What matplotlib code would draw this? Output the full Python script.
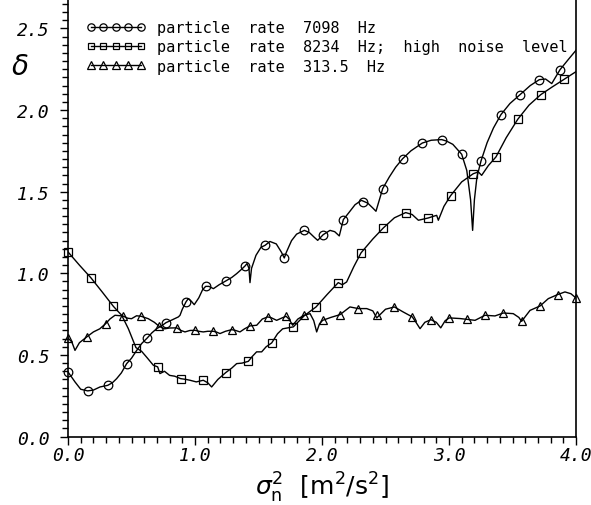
import matplotlib
matplotlib.use("Agg")
import matplotlib.pyplot as plt
from matplotlib.ticker import MultipleLocator, FormatStrFormatter

# ---- data ----
circ_line_x = [0.00, 0.055, 0.10, 0.155, 0.20, 0.252, 0.313, 0.35, 0.383, 0.42, 0.462, 0.50, 0.541, 0.58,
               0.624, 0.66, 0.698, 0.74, 0.772, 0.82, 0.869, 0.882, 0.90, 0.929, 0.947, 0.97, 0.994, 1.03,
               1.06, 1.084, 1.11, 1.145, 1.19, 1.242, 1.29, 1.328, 1.36, 1.394, 1.41, 1.425, 1.433, 1.445,
               1.48, 1.52, 1.551, 1.59, 1.64, 1.68, 1.703, 1.72, 1.76, 1.80, 1.861, 1.90, 1.94, 1.966,
               2.010, 2.063, 2.10, 2.136, 2.168, 2.21, 2.26, 2.31, 2.36, 2.40, 2.425, 2.478, 2.53, 2.58,
               2.635, 2.70, 2.79, 2.86, 2.942, 2.98, 3.03, 3.10, 3.14, 3.17, 3.186, 3.20, 3.22, 3.252,
               3.30, 3.35, 3.409, 3.48, 3.559, 3.64, 3.711, 3.76, 3.809, 3.874, 3.94, 4.0]
circ_line_y = [0.396, 0.335, 0.29, 0.28, 0.285, 0.304, 0.314, 0.33, 0.355, 0.39, 0.447, 0.48, 0.528, 0.57,
               0.604, 0.635, 0.661, 0.68, 0.698, 0.715, 0.733, 0.743, 0.78, 0.825, 0.845, 0.83, 0.808, 0.85,
               0.90, 0.920, 0.92, 0.906, 0.93, 0.953, 0.975, 0.998, 1.02, 1.045, 1.06, 1.03, 0.943, 1.03,
               1.11, 1.16, 1.171, 1.195, 1.18, 1.13, 1.094, 1.13, 1.20, 1.24, 1.263, 1.25, 1.22, 1.202,
               1.237, 1.263, 1.255, 1.229, 1.329, 1.37, 1.42, 1.447, 1.43, 1.40, 1.38, 1.519, 1.59, 1.65,
               1.702, 1.75, 1.798, 1.815, 1.819, 1.81, 1.79, 1.729, 1.63, 1.45, 1.263, 1.45, 1.59, 1.688,
               1.80, 1.89, 1.972, 2.04, 2.094, 2.15, 2.186, 2.19, 2.162, 2.247, 2.31, 2.366]
circ_mark_x = [0.0, 0.155, 0.313, 0.462, 0.624, 0.772, 0.929, 1.084, 1.242, 1.394, 1.551, 1.703, 1.861,
               2.010, 2.168, 2.325, 2.478, 2.635, 2.790, 2.942, 3.100, 3.252, 3.409, 3.559, 3.711, 3.874]
circ_mark_y = [0.396, 0.28, 0.314, 0.447, 0.604, 0.698, 0.825, 0.920, 0.953, 1.045, 1.171, 1.094, 1.263,
               1.237, 1.329, 1.437, 1.519, 1.702, 1.798, 1.819, 1.729, 1.688, 1.972, 2.094, 2.186, 2.247]

sq_line_x = [0.0, 0.09, 0.181, 0.27, 0.357, 0.39, 0.423, 0.475, 0.535, 0.58, 0.624, 0.672, 0.706, 0.724,
             0.76, 0.80, 0.84, 0.887, 0.93, 0.961, 1.01, 1.065, 1.10, 1.131, 1.18, 1.242, 1.29, 1.328,
             1.37, 1.420, 1.45, 1.485, 1.525, 1.56, 1.604, 1.65, 1.69, 1.774, 1.86, 1.953, 2.04, 2.128,
             2.16, 2.194, 2.25, 2.307, 2.40, 2.483, 2.57, 2.659, 2.71, 2.759, 2.837, 2.88, 2.903, 2.916,
             2.96, 3.012, 3.10, 3.191, 3.231, 3.257, 3.31, 3.370, 3.45, 3.541, 3.63, 3.722, 3.81, 3.906, 4.0]
sq_line_y = [1.131, 1.05, 0.972, 0.885, 0.798, 0.77, 0.743, 0.661, 0.545, 0.522, 0.482, 0.437, 0.427, 0.386,
             0.40, 0.375, 0.37, 0.355, 0.35, 0.345, 0.335, 0.345, 0.33, 0.304, 0.35, 0.392, 0.42, 0.447,
             0.45, 0.461, 0.49, 0.519, 0.519, 0.55, 0.574, 0.63, 0.66, 0.672, 0.74, 0.794, 0.87, 0.943,
             0.93, 0.947, 1.04, 1.125, 1.21, 1.278, 1.34, 1.372, 1.36, 1.325, 1.339, 1.35, 1.355, 1.325,
             1.41, 1.475, 1.56, 1.610, 1.621, 1.60, 1.66, 1.713, 1.83, 1.943, 2.03, 2.094, 2.14, 2.188, 2.235]
sq_mark_x = [0.0, 0.181, 0.357, 0.535, 0.706, 0.887, 1.065, 1.242, 1.420, 1.604, 1.774, 1.953, 2.128,
             2.307, 2.483, 2.659, 2.837, 3.012, 3.191, 3.370, 3.541, 3.722, 3.906]
sq_mark_y = [1.131, 0.972, 0.798, 0.545, 0.427, 0.355, 0.345, 0.392, 0.461, 0.574, 0.672, 0.794, 0.943,
             1.125, 1.278, 1.372, 1.339, 1.475, 1.610, 1.713, 1.943, 2.094, 2.188]

tri_line_x = [0.0, 0.03, 0.055, 0.09, 0.147, 0.2, 0.25, 0.297, 0.33, 0.37, 0.431, 0.47, 0.50, 0.54, 0.575,
              0.632, 0.68, 0.717, 0.76, 0.80, 0.856, 0.89, 0.921, 0.96, 1.0, 1.03, 1.065, 1.10, 1.144, 1.17,
              1.197, 1.24, 1.289, 1.32, 1.354, 1.39, 1.433, 1.486, 1.53, 1.572, 1.60, 1.643, 1.68, 1.717,
              1.74, 1.769, 1.81, 1.858, 1.906, 1.935, 1.958, 1.98, 2.005, 2.07, 2.142, 2.22, 2.286, 2.352,
              2.40, 2.431, 2.50, 2.570, 2.64, 2.711, 2.74, 2.772, 2.81, 2.858, 2.90, 2.935, 2.97, 3.002,
              3.087, 3.142, 3.205, 3.283, 3.362, 3.428, 3.506, 3.55, 3.572, 3.638, 3.717, 3.782, 3.856,
              3.913, 3.96, 4.0]
tri_line_y = [0.604, 0.58, 0.528, 0.575, 0.610, 0.641, 0.66, 0.692, 0.72, 0.743, 0.739, 0.725, 0.722, 0.74,
              0.737, 0.722, 0.70, 0.676, 0.66, 0.665, 0.666, 0.65, 0.641, 0.65, 0.651, 0.645, 0.641, 0.645,
              0.645, 0.64, 0.631, 0.645, 0.655, 0.65, 0.641, 0.66, 0.678, 0.682, 0.72, 0.733, 0.728, 0.712,
              0.725, 0.737, 0.72, 0.682, 0.72, 0.743, 0.753, 0.71, 0.641, 0.69, 0.712, 0.73, 0.747, 0.794,
              0.784, 0.784, 0.77, 0.727, 0.78, 0.794, 0.763, 0.733, 0.70, 0.661, 0.70, 0.716, 0.70, 0.666,
              0.71, 0.727, 0.723, 0.718, 0.712, 0.743, 0.739, 0.757, 0.753, 0.73, 0.706, 0.773, 0.800,
              0.845, 0.870, 0.886, 0.875, 0.849]
tri_mark_x = [0.0, 0.147, 0.297, 0.431, 0.575, 0.717, 0.856, 1.0, 1.144, 1.289, 1.433, 1.572, 1.717, 1.858,
              2.005, 2.142, 2.286, 2.431, 2.570, 2.711, 2.858, 3.002, 3.142, 3.283, 3.428, 3.572, 3.717,
              3.856, 3.998]
tri_mark_y = [0.604, 0.610, 0.692, 0.739, 0.737, 0.676, 0.666, 0.651, 0.645, 0.655, 0.678, 0.733, 0.737,
              0.743, 0.712, 0.747, 0.784, 0.743, 0.794, 0.733, 0.716, 0.727, 0.718, 0.743, 0.757, 0.706,
              0.800, 0.870, 0.849]

labels = ["particle  rate  7098  Hz",
          "particle  rate  8234  Hz;  high  noise  level",
          "particle  rate  313.5  Hz"]

# ---- figure ----
W, H = 591, 506
fig = plt.figure(figsize=(W / 100, H / 100), dpi=100)
ax = fig.add_axes([68 / W, (H - 437.6) / H, (576 - 68) / W, 437.6 / H])
ax.set_xlim(0, 4.0)
ax.set_ylim(0, 2.68)

lw = 1.0
series = [
    (circ_line_x, circ_line_y, circ_mark_x, circ_mark_y, 'o', 6.2),
    (sq_line_x, sq_line_y, sq_mark_x, sq_mark_y, 's', 5.6),
    (tri_line_x, tri_line_y, tri_mark_x, tri_mark_y, '^', 6.4),
]
handles = []
for (lx, ly, mx, my, mk, ms), lab in zip(series, labels):
    ax.plot(lx, ly, color='black', lw=lw, clip_on=True)
    ax.plot(mx, my, linestyle='none', marker=mk, ms=ms, mfc='none', mec='black', mew=0.9, clip_on=False)
    h, = ax.plot([], [], color='black', lw=lw, marker=mk, ms=ms * 0.85, mfc='none', mec='black', mew=0.9)
    handles.append(h)

leg = ax.legend(handles, labels, loc='upper left', bbox_to_anchor=(0.036, 0.952),
                numpoints=5, handlelength=3.85, handletextpad=0.8, labelspacing=0.28,
                frameon=False, borderpad=0, borderaxespad=0,
                prop={'family': 'DejaVu Sans Mono', 'size': 11})

# spines & ticks
ax.spines['top'].set_visible(False)
for s in ['left', 'bottom', 'right']:
    ax.spines[s].set_linewidth(1.2)
ax.xaxis.set_major_locator(MultipleLocator(1.0))
ax.xaxis.set_minor_locator(MultipleLocator(0.1))
ax.yaxis.set_major_locator(MultipleLocator(0.5))
ax.yaxis.set_minor_locator(MultipleLocator(0.05))
ax.xaxis.set_major_formatter(FormatStrFormatter('%.1f'))
ax.yaxis.set_major_formatter(FormatStrFormatter('%.1f'))
ax.tick_params(which='both', direction='out', top=False, right=False, width=1.0)
ax.tick_params(which='major', length=6)
ax.tick_params(which='minor', length=4)
ax.tick_params(axis='y', which='major', pad=7)
ax.tick_params(axis='x', which='major', pad=1)
for t in ax.get_xticklabels() + ax.get_yticklabels():
    t.set_family('DejaVu Sans Mono')
    t.set_style('italic')
    t.set_fontsize(13)

ax.set_xlabel(r'$\sigma_{\rm n}^2$  [m$^2$/s$^2$]', fontsize=18, labelpad=4)
fig.text(20 / W, 1 - 67 / H, r'$\delta$', fontsize=20, ha='center', va='center')

fig.savefig('out.png', dpi=100)
